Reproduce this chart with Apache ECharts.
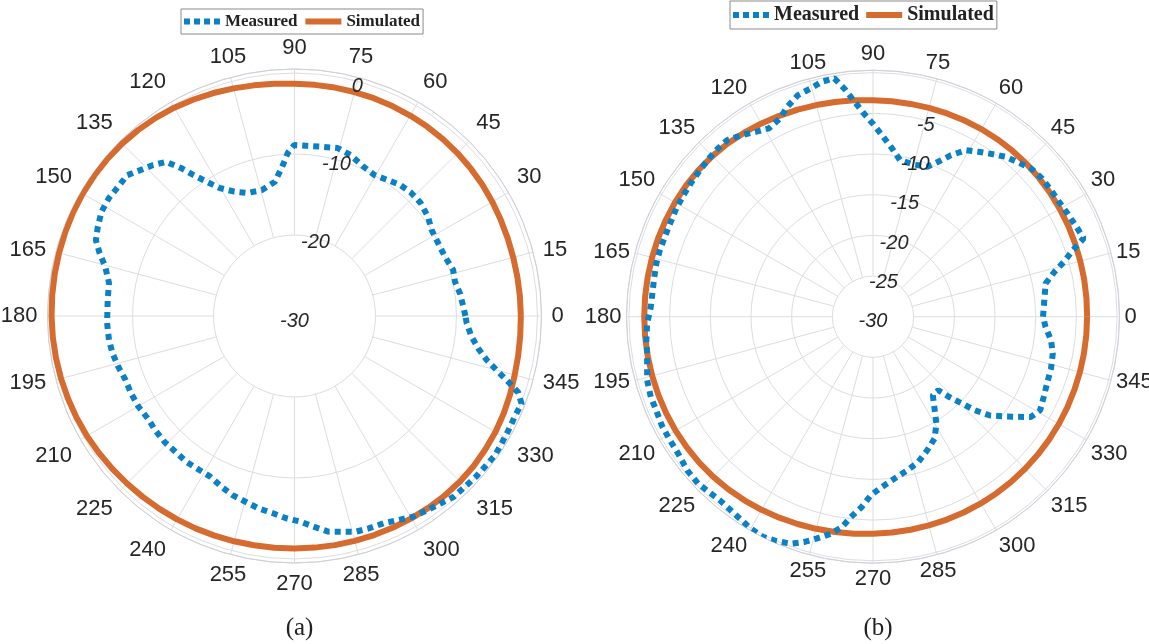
<!DOCTYPE html>
<html><head><meta charset="utf-8">
<script src="https://cdn.jsdelivr.net/npm/echarts@6/dist/echarts.min.js"></script>
<style>html,body{margin:0;padding:0;background:#fff}#c{width:1149px;height:644px}</style>
</head><body><div id="c"></div>
<script>
// ---- data (dB vs angle in degrees) ----
const simAngles = [0,5,10,15,20,25,30,35,40,45,50,55,60,65,70,75,80,85,90,95,100,105,110,115,120,125,130,135,140,145,150,155,160,165,170,175,180,185,190,195,200,205,210,215,220,225,230,235,240,245,250,255,260,265,270,275,280,285,290,295,300,305,310,315,320,325,330,335,340,345,350,355,360];
const simA = [-2.05,-2.06,-2.06,-2.04,-1.98,-1.9,-1.8,-1.7,-1.62,-1.55,-1.49,-1.45,-1.42,-1.4,-1.38,-1.37,-1.36,-1.35,-1.32,-1.22,-1.08,-0.9,-0.7,-0.5,-0.3,-0.13,0.0,0.1,0.16,0.19,0.2,0.18,0.14,0.1,0.06,0.03,0.0,-0.04,-0.09,-0.15,-0.23,-0.31,-0.4,-0.52,-0.64,-0.75,-0.85,-0.93,-1.0,-1.07,-1.14,-1.2,-1.25,-1.28,-1.3,-1.29,-1.27,-1.25,-1.22,-1.18,-1.15,-1.12,-1.1,-1.1,-1.15,-1.24,-1.35,-1.5,-1.67,-1.85,-1.95,-2.02,-2.05];
const simB = [-3.68,-3.66,-3.64,-3.62,-3.58,-3.53,-3.49,-3.44,-3.4,-3.37,-3.36,-3.36,-3.37,-3.39,-3.41,-3.43,-3.44,-3.42,-3.38,-3.3,-3.2,-3.07,-2.92,-2.75,-2.57,-2.38,-2.21,-2.08,-1.99,-1.93,-1.9,-1.89,-1.88,-1.88,-1.88,-1.88,-1.88,-1.88,-1.89,-1.9,-1.92,-1.94,-1.98,-2.04,-2.11,-2.2,-2.32,-2.45,-2.59,-2.74,-2.88,-3.01,-3.13,-3.23,-3.31,-3.37,-3.41,-3.44,-3.46,-3.48,-3.5,-3.52,-3.54,-3.56,-3.58,-3.6,-3.62,-3.64,-3.66,-3.67,-3.68,-3.68,-3.68];

const measAAngles = [0,3.2,7.8,12.1,16.2,21.5,26.2,32.1,36.6,41.8,46.5,51.1,55.6,60.4,65.2,70.8,75.6,81.1,86.0,90.1,92.4,94.7,98.3,104.5,111.0,115.8,120.3,123.2,125.6,127.5,129.8,133.1,136.6,139.9,143.8,147.6,151.6,155.6,159.1,162.1,165.4,169.9,175.1,182.1,187.4,191.6,196.0,200.7,205.3,210.2,214.9,219.3,224.0,228.7,233.4,238.3,242.3,246.8,250.9,255.2,259.3,263.8,267.6,271.7,275.2,278.9,282.7,285.9,289.3,293.3,297.0,300.6,304.5,308.0,311.4,315.0,318.5,321.7,324.9,328.4,332.0,335.4,338.9,341.1,342.9,345.0,347.1,350.0,353.3,357.6,360];
const measADb = [-8.9,-9.12,-9.38,-9.74,-9.6,-10.03,-10.11,-10.01,-9.46,-9.09,-9.05,-9.21,-9.65,-9.99,-9.69,-8.95,-8.59,-8.84,-8.93,-8.89,-9.86,-11.5,-13.25,-13.94,-13.73,-12.95,-11.69,-10.19,-8.6,-6.96,-5.22,-4.46,-3.78,-3.0,-3.0,-2.85,-2.91,-3.33,-3.75,-4.71,-5.85,-6.73,-6.85,-6.84,-6.9,-7.06,-7.35,-7.69,-7.67,-7.72,-7.9,-7.76,-7.65,-7.7,-7.59,-7.65,-7.6,-7.07,-6.6,-6.28,-5.84,-5.5,-5.0,-4.59,-3.88,-3.05,-2.7,-2.31,-2.22,-2.14,-1.73,-1.21,-0.93,-0.64,-0.25,-0.21,-0.07,0.0,0.15,0.03,-0.05,-0.1,0.05,-0.79,-2.38,-4.16,-5.65,-6.96,-7.98,-8.72,-8.9];

const measBAngles = [0,10.9,13.9,16.0,18.4,20.4,23.8,28.0,31.2,35.4,39.3,43.2,46.2,50.3,53.6,57.5,60.9,64.2,67.2,70.1,75.4,80.2,84.0,87.2,90.1,92.6,94.9,96.9,99.2,102.3,105.2,108.7,112.2,115.1,118.9,122.2,125.9,129.5,132.6,136.0,139.7,143.8,147.3,151.2,154.9,158.6,162.7,166.2,169.7,173.6,177.5,181.7,185.9,189.3,192.5,195.7,199.9,203.3,207.2,210.9,215.1,219.6,223.7,226.9,230.2,233.7,237.2,240.0,243.6,246.7,250.1,252.9,255.7,259.0,261.6,263.7,266.6,269.3,273.0,277.6,282.6,287.3,292.1,296.8,300.7,303.8,307.3,311.6,313.5,315.7,317.4,319.7,322.3,325.1,327.6,330.8,334.8,339.5,343.8,348.4,352.5,356.6,360];
const measBDb = [-9.1,-8.39,-7.01,-5.61,-4.11,-2.37,-2.66,-2.94,-3.11,-3.15,-3.16,-3.36,-3.89,-4.46,-5.18,-5.95,-6.57,-7.95,-9.34,-10.41,-10.62,-10.47,-9.0,-7.65,-6.24,-4.98,-3.48,-1.93,-0.32,-0.44,-0.91,-1.24,-2.13,-3.08,-3.55,-3.12,-2.45,-1.85,-1.88,-1.98,-2.12,-2.25,-2.32,-2.4,-2.55,-2.58,-2.56,-2.57,-2.68,-2.73,-2.66,-2.23,-1.99,-1.87,-1.56,-1.16,-0.96,-0.98,-0.8,-0.79,-0.73,-0.37,-0.28,-0.49,-0.61,-0.47,-0.22,0.07,0.25,0.02,-0.33,-1.01,-1.85,-2.83,-3.86,-5.23,-6.57,-8.04,-9.04,-9.93,-10.65,-11.29,-12.28,-13.22,-14.72,-16.41,-17.87,-17.91,-16.4,-14.72,-13.03,-11.27,-9.98,-8.49,-7.0,-6.46,-6.81,-7.11,-7.21,-7.44,-7.93,-8.75,-9.1];

const spokeAngles = [0,15,30,45,60,75,90,105,120,135,150,165,180,195,210,225,240,255,270,285,300,315,330,345];
const rMinA = -30, rMaxA = 0.5, rStepA = 10, spokeStartA = -20;
const rMinB = -30, rMaxB = 0.3, rStepB = 5, spokeStartB = -25;

// ---- styling ----
const BLUE = '#0b80c4', ORANGE = '#d56b2e', GRID = '#dcdde2', TXT = '#262626';
const DOTS = 'path://M0,0h6v6h-6z M10,0h6v6h-6z M20,0h6v6h-6z M30,0h6v6h-6z';
const pair = (ang, db) => ang.map((a, i) => [db[i], a]);

function angleAx(pi, margin) {
  return {polarIndex: pi, type: 'value', min: 0, max: 360, interval: 15, startAngle: 0, clockwise: false,
    axisLine: {show: true, lineStyle: {color: '#cfd0d6', width: 1}},
    axisTick: {show: false}, splitLine: {show: false},
    axisLabel: {show: true, margin, fontFamily: 'Liberation Sans', fontSize: 22, color: TXT,
      formatter: v => (v >= 360 ? '' : String(v))}};
}
function hiddenAngleAx(pi) {
  return {polarIndex: pi, type: 'value', min: 0, max: 360, startAngle: 75, clockwise: false, show: false};
}
function gridRadius(pi, mn, mx, step) {
  return {polarIndex: pi, type: 'value', min: mn, max: mx, interval: step,
    axisLine: {show: false}, axisTick: {show: false}, axisLabel: {show: false},
    splitLine: {show: true, lineStyle: {color: GRID, width: 1}}};
}
function labelRadius(pi, mn, mx, step, hideZero) {
  return {polarIndex: pi, type: 'value', min: mn, max: mx, interval: step, z: 10,
    axisLine: {show: false}, axisTick: {show: false}, splitLine: {show: false},
    axisLabel: {show: true, margin: 0, align: 'center', verticalAlign: 'top', lineHeight: 10,
      fontFamily: 'Liberation Sans', fontStyle: 'italic', fontSize: 20, color: TXT,
      formatter: v => (v > 0 || (hideZero && v >= 0) ? '' : String(v))}};
}
function spokes(pi, start, end) {
  return {type: 'custom', name: 'grid', coordinateSystem: 'polar', polarIndex: pi, silent: true, z: 1,
    data: spokeAngles.map(a => [start, a]),
    renderItem: (params, api) => {
      const a = api.value(1);
      const p0 = api.coord([api.value(0), a]);
      const p1 = api.coord([end, a]);
      return {type: 'line', shape: {x1: p0[0], y1: p0[1], x2: p1[0], y2: p1[1]},
        style: {stroke: GRID, lineWidth: 1}};
    }};
}
function measSeries(pi, data) {
  return {name: 'Measured', type: 'line', coordinateSystem: 'polar', polarIndex: pi, data,
    symbol: 'none', smooth: false, clip: false, z: 4,
    lineStyle: {color: BLUE, width: 6, type: [6, 5], cap: 'butt'}, itemStyle: {color: BLUE}};
}
function simSeries(pi, data) {
  return {name: 'Simulated', type: 'line', coordinateSystem: 'polar', polarIndex: pi, data,
    symbol: 'none', smooth: false, clip: false, z: 3,
    lineStyle: {color: ORANGE, width: 6}, itemStyle: {color: ORANGE}};
}
function legend(left, top, fs, gap) {
  return {left, top, orient: 'horizontal',
    data: [{name: 'Measured', icon: DOTS}, {name: 'Simulated', icon: 'rect'}],
    itemWidth: 36, itemHeight: 6, itemGap: gap, padding: [4, 3, 4, 3],
    borderColor: '#8a8a8a', borderWidth: 1, backgroundColor: '#fff',
    textStyle: {fontFamily: 'Liberation Serif', fontWeight: 'bold', fontSize: fs, color: '#222'}};
}

const chart = echarts.init(document.getElementById('c'), null, {renderer: 'canvas'});
chart.setOption({
  animation: false,
  backgroundColor: '#fff',
  title: [
    {text: '(a)', left: 294.5, top: 611, textAlign: 'center',
      textStyle: {fontFamily: 'Liberation Serif', fontWeight: 'normal', fontSize: 25, color: '#222'}},
    {text: '(b)', left: 873, top: 611, textAlign: 'center',
      textStyle: {fontFamily: 'Liberation Serif', fontWeight: 'normal', fontSize: 25, color: '#222'}}
  ],
  legend: [legend(181, 9, 17, 8), legend(730, 1, 20, 7)],
  polar: [
    {center: [294.5, 316], radius: 247},
    {center: [294.5, 316], radius: 247},
    {center: [873, 316.7], radius: 246.5},
    {center: [873, 316.7], radius: 246.5}
  ],
  angleAxis: [angleAx(0, 10), hiddenAngleAx(1), angleAx(2, 5), hiddenAngleAx(3)],
  radiusAxis: [
    gridRadius(0, rMinA, rMaxA, rStepA), labelRadius(1, rMinA, rMaxA, rStepA, false),
    gridRadius(2, rMinB, rMaxB, rStepB), labelRadius(3, rMinB, rMaxB, rStepB, true)
  ],
  series: [
    spokes(0, spokeStartA, rMaxA),
    spokes(2, spokeStartB, rMaxB),
    simSeries(0, pair(simAngles, simA)),
    measSeries(0, pair(measAAngles, measADb)),
    simSeries(2, pair(simAngles, simB)),
    measSeries(2, pair(measBAngles, measBDb))
  ]
});
</script>
</body></html>
